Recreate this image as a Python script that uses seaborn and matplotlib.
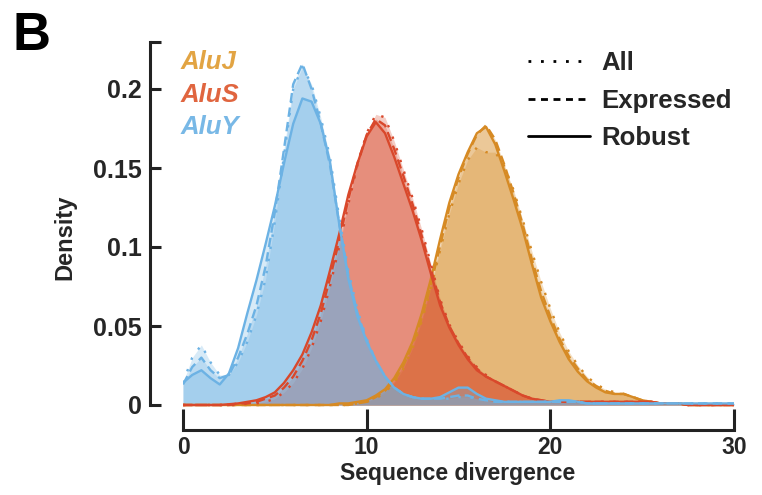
import numpy as np
import pandas as pd
import matplotlib
matplotlib.use("Agg")
import matplotlib.pyplot as plt
import seaborn as sns
from matplotlib.lines import Line2D

# ---------------- data (density) ----------------
divergence = np.arange(0, 30.5, 0.5)   # sampling grid 0..30 step 0.5

alu_y_all = [0.014, 0.030, 0.038, 0.027, 0.019, 0.019, 0.027, 0.040, 0.057, 0.080,
             0.116, 0.158, 0.200, 0.214, 0.203, 0.182, 0.157, 0.119, 0.085, 0.060,
             0.042, 0.028, 0.018, 0.011, 0.007, 0.005, 0.004, 0.004, 0.004, 0.004,
             0.005, 0.005, 0.004, 0.003, 0.002, 0.002, 0.002, 0.002, 0.002, 0.002,
             0.002, 0.002, 0.002, 0.002, 0.001, 0.001, 0.001, 0.001, 0.001, 0.001,
             0.001, 0.001, 0.001, 0.001, 0.001, 0.001, 0.001, 0.001, 0.001, 0.001,
             0.001]
alu_y_expressed = [0.013, 0.024, 0.030, 0.022, 0.017, 0.019, 0.030, 0.045, 0.063, 0.088,
                   0.122, 0.162, 0.203, 0.216, 0.200, 0.178, 0.152, 0.115, 0.082, 0.058,
                   0.041, 0.028, 0.018, 0.011, 0.007, 0.005, 0.004, 0.004, 0.004, 0.005,
                   0.006, 0.006, 0.004, 0.003, 0.002, 0.002, 0.002, 0.002, 0.002, 0.002,
                   0.002, 0.002, 0.002, 0.002, 0.001, 0.001, 0.001, 0.001, 0.001, 0.001,
                   0.001, 0.001, 0.001, 0.001, 0.001, 0.001, 0.001, 0.001, 0.001, 0.001,
                   0.001]
alu_y_robust = [0.014, 0.019, 0.022, 0.017, 0.013, 0.020, 0.036, 0.058, 0.079, 0.102,
                0.126, 0.153, 0.178, 0.194, 0.192, 0.178, 0.154, 0.115, 0.080, 0.056,
                0.040, 0.028, 0.018, 0.011, 0.007, 0.005, 0.004, 0.004, 0.005, 0.008,
                0.011, 0.011, 0.007, 0.004, 0.003, 0.002, 0.002, 0.002, 0.002, 0.002,
                0.002, 0.003, 0.003, 0.002, 0.001, 0.001, 0.001, 0.001, 0.001, 0.001,
                0.001, 0.001, 0.001, 0.001, 0.001, 0.001, 0.001, 0.001, 0.001, 0.001,
                0.001]

alu_s_all = [0.000, 0.000, 0.000, 0.000, 0.000, 0.000, 0.000, 0.001, 0.001, 0.002,
             0.004, 0.008, 0.014, 0.023, 0.036, 0.053, 0.075, 0.100, 0.127, 0.152,
             0.172, 0.184, 0.182, 0.167, 0.149, 0.131, 0.111, 0.089, 0.067, 0.051,
             0.040, 0.031, 0.024, 0.019, 0.015, 0.012, 0.009, 0.006, 0.004, 0.003,
             0.002, 0.002, 0.002, 0.002, 0.002, 0.002, 0.002, 0.002, 0.002, 0.002,
             0.002, 0.002, 0.001, 0.001, 0.001, 0.000, 0.000, 0.000, 0.000, 0.000,
             0.000]
alu_s_expressed = [0.000, 0.000, 0.000, 0.000, 0.000, 0.000, 0.001, 0.001, 0.002, 0.004,
                   0.006, 0.011, 0.018, 0.028, 0.041, 0.058, 0.080, 0.104, 0.130, 0.153,
                   0.171, 0.181, 0.177, 0.162, 0.145, 0.127, 0.107, 0.086, 0.065, 0.050,
                   0.039, 0.030, 0.023, 0.018, 0.015, 0.012, 0.009, 0.006, 0.004, 0.003,
                   0.002, 0.002, 0.002, 0.002, 0.002, 0.002, 0.002, 0.002, 0.002, 0.002,
                   0.002, 0.002, 0.001, 0.001, 0.001, 0.000, 0.000, 0.000, 0.000, 0.000,
                   0.000]
alu_s_robust = [0.000, 0.000, 0.000, 0.000, 0.000, 0.0005, 0.001, 0.002, 0.003, 0.005,
                0.008, 0.014, 0.022, 0.032, 0.046, 0.063, 0.085, 0.108, 0.133, 0.153,
                0.170, 0.179, 0.172, 0.157, 0.140, 0.123, 0.104, 0.083, 0.063, 0.049,
                0.038, 0.029, 0.022, 0.018, 0.015, 0.012, 0.009, 0.006, 0.004, 0.003,
                0.002, 0.002, 0.002, 0.002, 0.002, 0.002, 0.002, 0.002, 0.002, 0.002,
                0.002, 0.002, 0.001, 0.001, 0.001, 0.000, 0.000, 0.000, 0.000, 0.000,
                0.000]

alu_j_all = [0.000, 0.000, 0.000, 0.000, 0.000, 0.000, 0.000, 0.000, 0.000, 0.000,
             0.000, 0.000, 0.000, 0.000, 0.000, 0.000, 0.000, 0.000, 0.000, 0.001,
             0.002, 0.004, 0.008, 0.014, 0.023, 0.036, 0.053, 0.074, 0.098, 0.121,
             0.140, 0.155, 0.163, 0.160, 0.160, 0.151, 0.136, 0.117, 0.097, 0.078,
             0.061, 0.046, 0.034, 0.025, 0.018, 0.013, 0.010, 0.008, 0.007, 0.005,
             0.003, 0.002, 0.001, 0.001, 0.001, 0.000, 0.000, 0.000, 0.000, 0.000,
             0.000]
alu_j_expressed = [0.000, 0.000, 0.000, 0.000, 0.000, 0.000, 0.000, 0.000, 0.000, 0.000,
                   0.000, 0.000, 0.000, 0.000, 0.000, 0.000, 0.000, 0.000, 0.000, 0.001,
                   0.002, 0.005, 0.009, 0.015, 0.025, 0.038, 0.055, 0.076, 0.101, 0.125,
                   0.144, 0.159, 0.171, 0.177, 0.168, 0.152, 0.134, 0.114, 0.092, 0.072,
                   0.056, 0.042, 0.031, 0.023, 0.016, 0.012, 0.009, 0.007, 0.007, 0.005,
                   0.003, 0.002, 0.001, 0.001, 0.001, 0.000, 0.000, 0.000, 0.000, 0.000,
                   0.000]
alu_j_robust = [0.000, 0.000, 0.000, 0.000, 0.000, 0.000, 0.000, 0.000, 0.000, 0.000,
                0.000, 0.000, 0.000, 0.000, 0.000, 0.000, 0.000, 0.001, 0.001, 0.002,
                0.003, 0.006, 0.010, 0.017, 0.027, 0.040, 0.058, 0.080, 0.105, 0.128,
                0.146, 0.160, 0.172, 0.176, 0.165, 0.148, 0.130, 0.111, 0.089, 0.068,
                0.053, 0.040, 0.029, 0.021, 0.015, 0.011, 0.008, 0.007, 0.007, 0.005,
                0.003, 0.002, 0.001, 0.001, 0.001, 0.000, 0.000, 0.000, 0.000, 0.000,
                0.000]

families = ["AluJ", "AluS", "AluY"]
subsets = ["All", "Expressed", "Robust"]
curves = {
    "AluJ": {"All": alu_j_all, "Expressed": alu_j_expressed, "Robust": alu_j_robust},
    "AluS": {"All": alu_s_all, "Expressed": alu_s_expressed, "Robust": alu_s_robust},
    "AluY": {"All": alu_y_all, "Expressed": alu_y_expressed, "Robust": alu_y_robust},
}

rows = []
for fam in families:
    for sub in subsets:
        vals = curves[fam][sub]
        assert len(vals) == len(divergence)
        for xv, yv in zip(divergence, vals):
            rows.append({"family": fam, "subset": sub, "divergence": xv, "density": yv})
df = pd.DataFrame(rows)

# ---------------- style ----------------
line_colors = {"AluJ": "#D68A24", "AluS": "#D9482B", "AluY": "#6CB2E4"}
text_colors = {"AluJ": "#E2A443", "AluS": "#E0653F", "AluY": "#78B8E6"}

sns.set_theme(style="ticks")
plt.rcParams["font.family"] = ["Liberation Sans", "DejaVu Sans"]
plt.rcParams["font.weight"] = "bold"

W, H = 762, 495
fig = plt.figure(figsize=(W / 100, H / 100), dpi=100)

y_lo, y_hi = -0.0015, 0.23
px0, px30 = 183, 734
py_zero, px_per_unit = 405, 1580
ax_bottom_px = py_zero + (-y_lo) * px_per_unit
ax_top_px = py_zero - y_hi * px_per_unit
ax = fig.add_axes([px0 / W, 1 - ax_bottom_px / H, (px30 - px0) / W,
                   (ax_bottom_px - ax_top_px) / H])

dash_map = {"All": (1.0, 4.2), "Expressed": (4.0, 2.2), "Robust": ""}

for fam in families:
    sub_df = df[df["family"] == fam]
    for s in subsets:
        ss = sub_df[sub_df["subset"] == s]
        ax.fill_between(ss["divergence"], ss["density"], color=line_colors[fam],
                        alpha=0.27, lw=0)
    sns.lineplot(data=sub_df, x="divergence", y="density", style="subset",
                 style_order=subsets, dashes=dash_map, color=line_colors[fam],
                 lw=1.7, legend=False, ax=ax, estimator=None, sort=False)

ax.set_xlim(0, 30)
ax.set_ylim(y_lo, y_hi)
ax.set_xticks([0, 10, 20, 30])
ax.set_xticklabels(["0", "10", "20", "30"])
ax.set_yticks([0, 0.05, 0.1, 0.15, 0.2, 0.23])
ax.set_yticklabels(["0", "0.05", "0.1", "0.15", "0.2", ""])
ax.tick_params(axis="x", direction="in", length=15, width=2.2, labelsize=16.5, pad=4.5,
               color="#222222")
ax.tick_params(axis="y", direction="in", length=8, width=2.2, labelsize=18, pad=6,
               color="#222222")
for lab in ax.get_xticklabels() + ax.get_yticklabels():
    lab.set_fontweight("bold")

sns.despine(ax=ax)
ax.spines["left"].set_position(("outward", 33 * 0.72))
ax.spines["bottom"].set_position(("outward", (430 - ax_bottom_px) * 0.72))
ax.spines["left"].set_bounds(0, 0.23)
ax.spines["bottom"].set_bounds(0, 30)
for sp in ("left", "bottom"):
    ax.spines[sp].set_linewidth(2.2)
    ax.spines[sp].set_color("#222222")

ax.set_xlabel("Sequence divergence", fontsize=16.5, fontweight="bold", va="top")
ax.xaxis.set_label_coords((458 - px0) / (px30 - px0),
                          (ax_bottom_px - 462) / (ax_bottom_px - ax_top_px))
ax.set_ylabel("Density", fontsize=17, fontweight="bold", va="center")
ax.yaxis.set_label_coords((65 - px0) / (px30 - px0),
                          (ax_bottom_px - 237) / (ax_bottom_px - ax_top_px))

# family labels
for fam, yc in zip(families, [62, 95, 127]):
    fig.text(181 / W, 1 - yc / H, fam, color=text_colors[fam], fontsize=18.5,
             fontweight="bold", style="italic", ha="left", va="center")

# panel letter
fig.text(13 / W, 1 - 36 / H, "B", fontsize=38, fontweight="bold", ha="left",
         va="center", color="black")

# line-style legend
handles = [
    Line2D([], [], color="black", lw=2, dashes=(1.0, 3.5)),
    Line2D([], [], color="black", lw=2, dashes=(2.5, 2.0)),
    Line2D([], [], color="black", lw=2),
]
leg = ax.legend(handles, subsets, loc="upper left",
                bbox_to_anchor=(528 / W, 1 - 51 / H), bbox_transform=fig.transFigure,
                frameon=False, borderpad=0, borderaxespad=0, handlelength=2.4,
                handletextpad=0.45, labelspacing=0.53,
                prop={"weight": "bold", "size": 18.5})

fig.savefig("out.png", dpi=100)
